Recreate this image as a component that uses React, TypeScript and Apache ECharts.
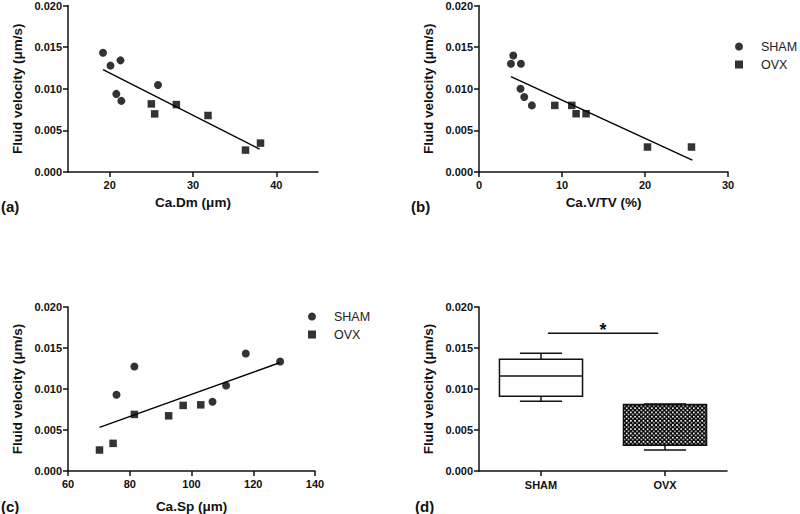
import React, { useEffect, useRef } from 'react';
import * as echarts from 'echarts';

const FONT = "'Liberation Sans', Arial, Helvetica, sans-serif";
const INK = '#111';

// Panel (a): Ca.Dm vs fluid velocity
const shamDm = [19.2, 20.1, 21.3, 20.8, 21.4, 25.8];
const shamVelA = [0.01433, 0.01278, 0.01341, 0.00938, 0.00854, 0.01046];
const ovxDm = [25.0, 25.4, 28.0, 31.8, 36.3, 38.1];
const ovxVelA = [0.00818, 0.00698, 0.0081, 0.00679, 0.00263, 0.00347];
const fitAx = [19.2, 38.0];
const fitAy = [0.0123, 0.00275];

// Panel (b): Ca.V/TV vs fluid velocity
const shamCaV = [3.85, 4.13, 5.05, 5.0, 5.45, 6.37];
const shamVelB = [0.013, 0.014, 0.013, 0.01, 0.009, 0.008];
const ovxCaV = [9.13, 11.18, 11.7, 12.9, 20.3, 25.6];
const ovxVelB = [0.008, 0.008, 0.007, 0.007, 0.003, 0.003];
const fitBx = [3.85, 25.7];
const fitBy = [0.01146, 0.00144];

// Panel (c): Ca.Sp vs fluid velocity
const shamSp = [75.7, 81.5, 106.8, 111.2, 117.6, 128.7];
const shamVelC = [0.00929, 0.01274, 0.00844, 0.01043, 0.01433, 0.01335];
const ovxSp = [70.2, 74.6, 81.5, 92.6, 97.3, 103.0];
const ovxVelC = [0.00256, 0.00337, 0.0069, 0.00673, 0.008, 0.00807];
const fitCx = [70.2, 128.5];
const fitCy = [0.00532, 0.0132];

// Panel (d): box plots [min, Q1, median, Q3, max]
const groups = ['SHAM', 'OVX'];
const shamBox = [0.00852, 0.00911, 0.0116, 0.01363, 0.01437];
const ovxBox = [0.00256, 0.00315, 0.0069, 0.0081, 0.00818];
const sigLevel = 0.0168;

const zip = (xs: number[], ys: number[]) => xs.map((x, i) => [x, ys[i]]);

const yAxisFor = (gridIndex: number) => ({
  type: 'value',
  gridIndex,
  min: 0,
  max: 0.02,
  interval: 0.005,
  name: 'Fluid velocity (μm/s)',
  nameLocation: 'middle',
  nameGap: 44,
  nameRotate: 90,
  nameTextStyle: { fontFamily: FONT, fontWeight: 'bold', fontSize: 13.5, color: INK },
  axisLine: { show: true, lineStyle: { color: INK, width: 1.5 } },
  axisTick: { show: true, length: 5, lineStyle: { color: INK, width: 1.5 } },
  axisLabel: {
    formatter: (v: number) => v.toFixed(3),
    fontFamily: FONT,
    fontWeight: 'bold',
    fontSize: 11,
    color: INK,
    margin: 6,
  },
  splitLine: { show: false },
});

const xValueAxis = (gridIndex: number, name: string, min: number, max: number, extra: any, nameGap: number) => ({
  type: 'value',
  gridIndex,
  min,
  max,
  name,
  nameLocation: 'middle',
  nameGap,
  nameTextStyle: { fontFamily: FONT, fontWeight: 'bold', fontSize: 13.5, color: INK },
  axisLine: { show: true, onZero: false, lineStyle: { color: INK, width: 1.5 } },
  axisTick: { show: true, length: 5, lineStyle: { color: INK, width: 1.5 }, ...(extra.tick || {}) },
  axisLabel: { fontFamily: FONT, fontWeight: 'bold', fontSize: 11, color: INK, margin: 7, ...(extra.label || {}) },
  splitLine: { show: false },
  ...(extra.axis || {}),
});

const scatterPair = (idx: number, sx: number[], sy: number[], ox: number[], oy: number[], fx: number[], fy: number[]) => [
  {
    type: 'scatter',
    name: 'SHAM',
    xAxisIndex: idx,
    yAxisIndex: idx,
    symbol: 'circle',
    symbolSize: 8,
    itemStyle: { color: '#000' },
    data: zip(sx, sy),
  },
  {
    type: 'scatter',
    name: 'OVX',
    xAxisIndex: idx,
    yAxisIndex: idx,
    symbol: 'rect',
    symbolSize: 7.5,
    itemStyle: { color: '#000' },
    data: zip(ox, oy),
  },
  {
    type: 'line',
    name: 'fit' + idx,
    xAxisIndex: idx,
    yAxisIndex: idx,
    symbol: 'none',
    silent: true,
    lineStyle: { color: '#000', width: 1.4 },
    data: zip(fx, fy),
  },
];

const legendAt = (left: number, top: number) => ({
  orient: 'vertical',
  left,
  top,
  padding: 0,
  itemGap: 5,
  itemWidth: 8,
  itemHeight: 8,
  selectedMode: false,
  data: [
    { name: 'SHAM', icon: 'circle' },
    { name: 'OVX', icon: 'rect' },
  ],
  textStyle: { fontFamily: FONT, fontSize: 12.5, color: '#222', padding: [0, 0, 0, 13] },
});

const panelTitle = (text: string, left: number, top: number) => ({
  text,
  left,
  top,
  padding: 0,
  textStyle: { fontFamily: FONT, fontWeight: 'bold', fontSize: 15, color: INK },
});

export default function App() {
  const ref = useRef<HTMLDivElement>(null);
  useEffect(() => {
    if (!ref.current) return;
    const chart = echarts.init(ref.current, null, { renderer: 'svg' });

    const cv = document.createElement('canvas');
    cv.width = 8;
    cv.height = 8;
    const ctx = cv.getContext('2d')!;
    ctx.fillStyle = '#000';
    ctx.fillRect(0, 0, 8, 8);
    ctx.fillStyle = '#fff';
    ctx.fillRect(0, 0, 3, 3);
    ctx.fillRect(4, 4, 3, 3);
    const checker: any = { image: cv, repeat: 'repeat', imageWidth: 4.2, imageHeight: 4.2 };

    const boxData = [
      [0, ...shamBox],
      [1, ...ovxBox],
    ];

    const option: any = {
      animation: false,
      backgroundColor: '#fff',
      title: [
        panelTitle('(a)', 1, 199),
        panelTitle('(b)', 411, 199),
        panelTitle('(c)', 1, 499),
        panelTitle('(d)', 415, 499),
      ],
      legend: [legendAt(735, 40), legendAt(308, 310)],
      grid: [
        { left: 68, top: 5, width: 250, height: 167 },
        { left: 479, top: 5, width: 249, height: 167 },
        { left: 68, top: 307, width: 247, height: 164 },
        { left: 479, top: 307, width: 248, height: 164 },
      ],
      xAxis: [
        xValueAxis(0, 'Ca.Dm (μm)', 15, 45, {
          tick: { customValues: [20, 30, 40] },
          label: { customValues: [20, 30, 40] },
        }, 23),
        xValueAxis(1, 'Ca.V/TV (%)', 0, 30, { axis: { interval: 10 } }, 23),
        xValueAxis(2, 'Ca.Sp (μm)', 60, 140, { axis: { interval: 20 } }, 28),
        {
          type: 'category',
          gridIndex: 3,
          data: groups,
          axisLine: { show: true, lineStyle: { color: INK, width: 1.5 } },
          axisTick: { show: true, alignWithLabel: true, length: 5, lineStyle: { color: INK, width: 1.5 } },
          axisLabel: { fontFamily: FONT, fontWeight: 'bold', fontSize: 11, color: INK, margin: 8 },
          splitLine: { show: false },
        },
      ],
      yAxis: [yAxisFor(0), yAxisFor(1), yAxisFor(2), yAxisFor(3)],
      series: [
        ...scatterPair(0, shamDm, shamVelA, ovxDm, ovxVelA, fitAx, fitAy),
        ...scatterPair(1, shamCaV, shamVelB, ovxCaV, ovxVelB, fitBx, fitBy),
        ...scatterPair(2, shamSp, shamVelC, ovxSp, ovxVelC, fitCx, fitCy),
        {
          type: 'custom',
          name: 'box',
          xAxisIndex: 3,
          yAxisIndex: 3,
          data: boxData,
          encode: { x: 0, y: [1, 2, 3, 4, 5] },
          renderItem: (params: any, api: any) => {
            const i = api.value(0);
            const mn = api.value(1);
            const q1 = api.value(2);
            const md = api.value(3);
            const q3 = api.value(4);
            const mx = api.value(5);
            const band = api.size([1, 0])[0];
            const cx = api.coord([i, md])[0];
            const y = (v: number) => api.coord([i, v])[1];
            const bh = band * 0.335;
            const ch = band * 0.17;
            const ls = { stroke: INK, lineWidth: 1.5 };
            const patterned = i !== 0;
            const medianLine = { type: 'line', shape: { x1: cx - bh, y1: y(md), x2: cx + bh, y2: y(md) }, style: ls };
            const box = {
              type: 'rect',
              shape: { x: cx - bh, y: y(q3), width: 2 * bh, height: y(q1) - y(q3) },
              style: { fill: patterned ? checker : '#fff', stroke: INK, lineWidth: 1.5 },
            };
            return {
              type: 'group',
              children: [
                { type: 'line', shape: { x1: cx, y1: y(mx), x2: cx, y2: y(q3) }, style: ls },
                { type: 'line', shape: { x1: cx, y1: y(q1), x2: cx, y2: y(mn) }, style: ls },
                { type: 'line', shape: { x1: cx - ch, y1: y(mx), x2: cx + ch, y2: y(mx) }, style: ls },
                { type: 'line', shape: { x1: cx - ch, y1: y(mn), x2: cx + ch, y2: y(mn) }, style: ls },
                ...(patterned ? [medianLine, box] : [box, medianLine]),
              ],
            };
          },
        },
        {
          type: 'custom',
          name: 'sig',
          xAxisIndex: 3,
          yAxisIndex: 3,
          data: [[0, 1, sigLevel]],
          encode: { x: [0, 1], y: 2 },
          renderItem: (params: any, api: any) => {
            const lvl = api.value(2);
            const p0 = api.coord([api.value(0), lvl]);
            const p1 = api.coord([api.value(1), lvl]);
            const band = api.size([1, 0])[0];
            const off = band * 0.055;
            return {
              type: 'group',
              children: [
                {
                  type: 'line',
                  shape: { x1: p0[0] + off, y1: p0[1], x2: p1[0] - off, y2: p1[1] },
                  style: { stroke: INK, lineWidth: 1.5 },
                },
                {
                  type: 'text',
                  x: (p0[0] + p1[0]) / 2,
                  y: p0[1] + 6,
                  style: {
                    text: '*',
                    fontFamily: FONT,
                    fontWeight: 'bold',
                    fontSize: 18,
                    fill: INK,
                    align: 'center',
                    verticalAlign: 'bottom',
                  },
                },
              ],
            };
          },
        },
      ],
    };

    chart.setOption(option);
    return () => chart.dispose();
  }, []);

  return (
    <div
      ref={ref}
      style={{ position: 'absolute', left: 0, top: 0, width: 800, height: 514 }}
    />
  );
}
